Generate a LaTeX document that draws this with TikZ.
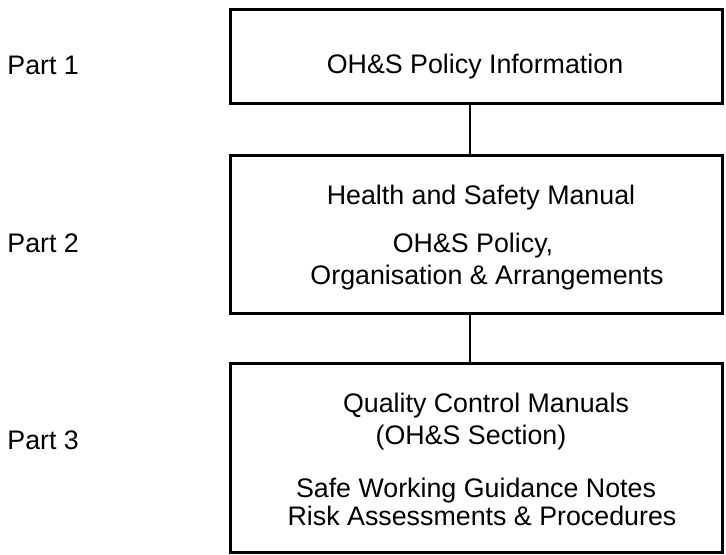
\documentclass[tikz,border=0pt]{standalone}
\usepackage{fontspec}
\setmainfont{Liberation Sans}
\begin{document}
\begin{tikzpicture}[x=0.5pt,y=-0.5pt,
    box/.style={draw,line width=1.5pt,minimum width=246pt,inner sep=0pt},
    txt/.style={anchor=base,inner sep=0pt,font=\fontsize{13.4}{16}\selectfont},
    link/.style={line width=1.3pt}]
    \useasboundingbox (0,0) rectangle (726,555);

    % the three boxes
    \node[box,minimum height=47.25pt] (info) at (476,56.75) {};
    \node[box,minimum height=78.75pt] (manual) at (476,234.25) {};
    \node[box,minimum height=94.5pt] (qcm) at (476,458) {};

    \draw[link] ([xshift=-3pt]info.south) -- ([xshift=-3pt]manual.north);
    \draw[link] ([xshift=-3pt]manual.south) -- ([xshift=-3pt]qcm.north);

    % Part 1
    \node[txt,anchor=base west] (part1) at (7,75) {Part 1};
    \node[txt] (infotxt) at (475,74) {OH\&S Policy Information};

    % Part 2
    \node[txt,anchor=base west] (part2) at (7,253) {Part 2};
    \node[txt] (hsm) at (481,205) {Health and Safety Manual};
    \node[txt] (policy) at (473,252) {OH\&S Policy,};
    \node[txt] (arrange) at (487,285) {Organisation \& Arrangements};

    % Part 3
    \node[txt,anchor=base west] (part3) at (7,449) {Part 3};
    \node[txt] (qcmtxt) at (486,412) {Quality Control Manuals};
    \node[txt] (section) at (471,444) {(OH\&S Section)};
    \node[txt] (guide) at (476,497) {Safe Working Guidance Notes};
    \node[txt] (risk) at (482,525) {Risk Assessments \& Procedures};
\end{tikzpicture}
\end{document}
